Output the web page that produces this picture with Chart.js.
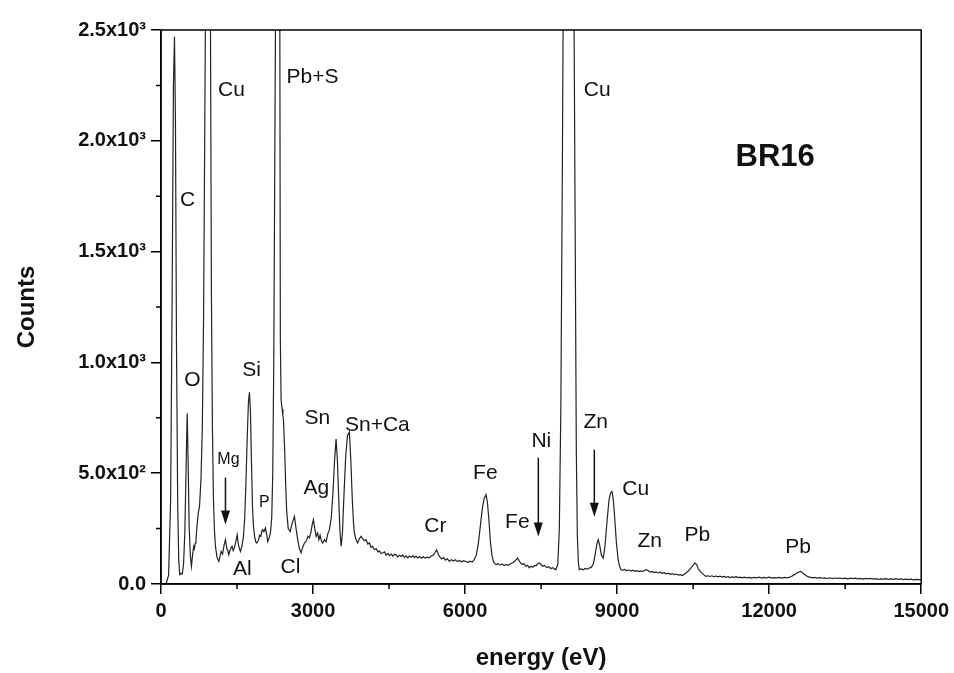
<!DOCTYPE html>
<html>
<head>
<meta charset="utf-8">
<script src="https://cdn.jsdelivr.net/npm/chart.js@4"></script>
<style>
  body { margin: 0; background: #fff; }
</style>
</head>
<body>
<canvas id="spectrum" width="954" height="673"></canvas>
<script>
// EDS spectrum BR16 - energy (eV) vs counts
const energyEv = [
  100, 150, 190, 220, 245, 266, 285, 305, 330, 350, 370, 395, 420, 445, 470, 495, 517, 535, 555, 580,
  600, 625, 645, 660, 675, 690, 710, 735, 760, 790, 815, 840, 865, 885, 905, 930, 955, 975, 995, 1015,
  1035, 1055, 1075, 1105, 1140, 1165, 1187, 1215, 1245, 1272, 1300, 1320, 1337, 1360, 1385, 1404, 1425, 1450, 1475, 1503,
  1525, 1548, 1568, 1595, 1625, 1650, 1675, 1700, 1725, 1745, 1765, 1785, 1805, 1824, 1850, 1870, 1889, 1920, 1945, 1970,
  1990, 2007, 2030, 2061, 2080, 2106, 2130, 2159, 2185, 2205, 2225, 2245, 2265, 2290, 2310, 2330, 2345, 2355, 2370, 2390,
  2405, 2416, 2440, 2460, 2480, 2510, 2548, 2590, 2633, 2665, 2698, 2730, 2765, 2795, 2830, 2870, 2900, 2928, 2960, 2985,
  3007, 3035, 3061, 3090, 3115, 3139, 3165, 3191, 3225, 3258, 3290, 3323, 3360, 3395, 3425, 3455, 3480, 3505, 3530, 3554,
  3580, 3610, 3645, 3680, 3717, 3745, 3775, 3800, 3816, 3850, 3881, 3915, 3948, 3980, 4010, 4047, 4080, 4115, 4145, 4177,
  4210, 4245, 4280, 4310, 4340, 4374, 4410, 4440, 4475, 4510, 4545, 4575, 4610, 4638, 4670, 4705, 4740, 4770, 4800, 4835,
  4870, 4900, 4935, 4970, 5000, 5033, 5070, 5100, 5140, 5175, 5210, 5250, 5295, 5330, 5370, 5400, 5439, 5470, 5500, 5540,
  5575, 5610, 5650, 5689, 5730, 5770, 5810, 5850, 5890, 5930, 5970, 6018, 6060, 6100, 6140, 6180, 6220, 6260, 6300, 6340,
  6375, 6413, 6440, 6470, 6500, 6530, 6560, 6590, 6610, 6650, 6690, 6730, 6770, 6810, 6850, 6890, 6930, 6970, 7000, 7036,
  7070, 7100, 7130, 7160, 7200, 7235, 7267, 7300, 7335, 7370, 7400, 7430, 7464, 7500, 7535, 7570, 7610, 7650, 7690, 7730,
  7760, 7793, 7830, 7860, 7890, 7920, 7950, 7990, 8050, 8100, 8140, 8170, 8195, 8215, 8235, 8253, 8290, 8330, 8370, 8410,
  8450, 8490, 8530, 8565, 8600, 8628, 8655, 8690, 8727, 8760, 8800, 8840, 8870, 8898, 8925, 8955, 8985, 9020, 9050, 9075,
  9110, 9150, 9190, 9230, 9270, 9310, 9350, 9390, 9430, 9470, 9510, 9545, 9580, 9615, 9650, 9690, 9730, 9770, 9810, 9850,
  9890, 9930, 9970, 10010, 10050, 10090, 10130, 10170, 10210, 10250, 10290, 10330, 10370, 10410, 10450, 10490, 10535, 10570, 10600, 10640,
  10680, 10720, 10751, 10790, 10830, 10870, 10910, 10950, 10990, 11030, 11070, 11110, 11150, 11190, 11230, 11270, 11310, 11350, 11390, 11430,
  11470, 11510, 11550, 11605, 11650, 11700, 11750, 11800, 11850, 11900, 11950, 12000, 12050, 12100, 12150, 12200, 12250, 12300, 12350, 12394,
  12440, 12480, 12520, 12560, 12600, 12625, 12660, 12700, 12740, 12780, 12820, 12854, 12900, 12950, 13000, 13050, 13100, 13150, 13200, 13250,
  13300, 13350, 13400, 13450, 13500, 13550, 13600, 13650, 13700, 13750, 13800, 13850, 13900, 13950, 14000, 14050, 14100, 14150, 14200, 14250,
  14300, 14350, 14400, 14450, 14500, 14550, 14600, 14650, 14700, 14750, 14800, 14850, 14900, 14964, 15000
];
const counts = [
  0, 40, 380, 1300, 2250, 2470, 2100, 1100, 350, 110, 42, 48, 45, 90, 230, 520, 771, 560, 260, 125,
  80, 135, 170, 160, 185, 200, 260, 320, 350, 480, 700, 1200, 2100, 2900, 3400, 3500, 3300, 2600, 1300, 700,
  380, 240, 170, 120, 102, 125, 147, 135, 175, 200, 160, 150, 132, 150, 165, 170, 150, 165, 190, 222,
  180, 160, 147, 170, 210, 290, 450, 650, 820, 865, 780, 550, 350, 260, 210, 190, 185, 195, 220, 215,
  240, 245, 235, 253, 230, 192, 205, 230, 300, 500, 1000, 1900, 2800, 3500, 3700, 3400, 2500, 1100, 830, 790,
  760, 741, 606, 450, 330, 250, 237, 275, 305, 250, 200, 160, 140, 165, 185, 195, 215, 208, 235, 270,
  290, 250, 215, 230, 200, 220, 195, 185, 200, 190, 225, 245, 300, 420, 560, 654, 560, 400, 240, 170,
  230, 400, 580, 670, 685, 560, 380, 270, 230, 200, 185, 205, 215, 205, 195, 200, 180, 185, 165, 170,
  155, 160, 145, 150, 138, 140, 145, 130, 138, 128, 135, 126, 134, 132, 122, 130, 124, 131, 120, 127,
  118, 126, 121, 128, 119, 125, 118, 124, 116, 123, 117, 121, 118, 126, 130, 140, 154, 135, 122, 113,
  119, 108, 114, 102, 110, 104, 109, 101, 106, 100, 105, 101, 98, 103, 99, 110, 130, 180, 260, 340,
  385, 403, 370, 290, 190, 130, 100, 92, 88, 92, 86, 90, 83, 88, 84, 90, 95, 100, 108, 117,
  104, 93, 88, 92, 80, 84, 73, 80, 76, 84, 82, 90, 95, 88, 80, 84, 74, 78, 70, 74,
  68, 65, 90, 250, 800, 1900, 3200, 4300, 4600, 4100, 3000, 1700, 600, 220, 100, 65, 68, 64, 70, 67,
  72, 75, 90, 130, 180, 200, 175, 130, 117, 170, 280, 380, 410, 418, 380, 290, 190, 110, 80, 65,
  62, 66, 60, 64, 58, 62, 57, 60, 56, 59, 57, 62, 65, 60, 54, 57, 52, 55, 50, 53,
  48, 51, 46, 49, 44, 47, 42, 45, 40, 42, 38, 45, 52, 60, 70, 82, 95, 88, 70, 57,
  48, 40, 35, 37, 34, 37, 33, 36, 32, 35, 31, 34, 30, 33, 29, 32, 30, 33, 29, 31,
  28, 31, 28, 30, 27, 30, 28, 31, 27, 30, 28, 31, 27, 29, 28, 30, 27, 30, 28, 30,
  34, 40, 45, 52, 55, 57, 50, 43, 36, 32, 30, 28, 30, 27, 29, 26, 28, 25, 28, 24,
  27, 25, 27, 24, 26, 23, 26, 24, 26, 23, 25, 22, 25, 23, 25, 22, 24, 21, 23, 22,
  24, 21, 23, 21, 24, 21, 23, 20, 22, 20, 22, 19, 21, 20, 19
];

// x axis / y axis ticks
const xTicks = [0, 3000, 6000, 9000, 12000, 15000];
const yTicks = [0, 500, 1000, 1500, 2000, 2500];

// peak labels (text, anchor energy, anchor counts)
const peakText = ['C', 'Cu', 'Pb+S', 'Cu', 'O', 'Si', 'Mg', 'P', 'Al', 'Cl', 'Ag', 'Sn', 'Sn+Ca',
  'Cr', 'Fe', 'Fe', 'Ni', 'Zn', 'Cu', 'Zn', 'Pb', 'Pb'];
const peakEv = [523, 1390, 2988, 8608, 621, 1785, 1331, 2041, 1607, 2554, 3067, 3087, 4270,
  5413, 6400, 7031, 7504, 8578, 9367, 9643, 10583, 12570];
const peakCounts = [1732, 2228, 2286, 2228, 921, 966, 560, 367, 65, 78, 434, 750, 718,
  259, 498, 281, 646, 732, 430, 191, 218, 164];
const smallLabels = ['Mg', 'P'];

// arrows: energy, from counts, to counts
const arrowEv = [1272, 7445, 8550];
const arrowFrom = [480, 570, 606];
const arrowTo = [268, 214, 304];

const sampleName = 'BR16';

function yLabel(v) {
  if (v === 0) return '0.0';
  const exp = Math.floor(Math.log10(v));
  const sup = exp === 2 ? '\u00B2' : '\u00B3';
  return (v / Math.pow(10, exp)).toFixed(1) + 'x10' + sup;
}

const decorations = {
  id: 'decorations',
  afterDatasetsDraw(chart) {
    const { ctx, chartArea: a, scales: { x, y } } = chart;
    ctx.save();
    // frame
    ctx.strokeStyle = '#000';
    ctx.lineWidth = 1.5;
    ctx.strokeRect(a.left, a.top, a.right - a.left, a.bottom - a.top);

    // minor ticks
    ctx.beginPath();
    for (let v = 1500; v < 15000; v += 3000) {
      const px = x.getPixelForValue(v);
      ctx.moveTo(px, a.bottom);
      ctx.lineTo(px, a.bottom + 5);
    }
    for (let v = 250; v < 2500; v += 500) {
      const py = y.getPixelForValue(v);
      ctx.moveTo(a.left - 5, py);
      ctx.lineTo(a.left, py);
    }
    ctx.stroke();

    // peak labels
    ctx.fillStyle = '#111';
    ctx.textAlign = 'center';
    ctx.textBaseline = 'middle';
    peakText.forEach((t, i) => {
      const size = smallLabels.includes(t) ? 16 : 21;
      ctx.font = size + 'px "Liberation Sans", Arial, sans-serif';
      ctx.fillText(t, x.getPixelForValue(peakEv[i]), y.getPixelForValue(peakCounts[i]));
    });

    ctx.font = 'bold 31px "Liberation Sans", Arial, sans-serif';
    ctx.fillText(sampleName, x.getPixelForValue(12118), y.getPixelForValue(1926));

    // arrows
    ctx.strokeStyle = '#111';
    ctx.lineWidth = 1.5;
    arrowEv.forEach((e, i) => {
      const px = x.getPixelForValue(e);
      const y0 = y.getPixelForValue(arrowFrom[i]);
      const y1 = y.getPixelForValue(arrowTo[i]);
      ctx.beginPath();
      ctx.moveTo(px, y0);
      ctx.lineTo(px, y1 - 10);
      ctx.stroke();
      ctx.beginPath();
      ctx.moveTo(px - 4.5, y1 - 14);
      ctx.lineTo(px + 4.5, y1 - 14);
      ctx.lineTo(px, y1);
      ctx.closePath();
      ctx.fill();
    });
    ctx.restore();
  }
};

new Chart(document.getElementById('spectrum'), {
  type: 'line',
  data: {
    datasets: [{
      label: 'BR16',
      data: energyEv.map((e, i) => ({ x: e, y: counts[i] })),
      borderColor: '#222',
      borderWidth: 1.2,
      pointRadius: 0,
      tension: 0,
      fill: false
    }]
  },
  options: {
    responsive: false,
    animation: false,
    devicePixelRatio: 1,
    layout: { padding: { left: 0, right: 32, top: 30, bottom: 0 } },
    plugins: { legend: { display: false }, tooltip: { enabled: false } },
    scales: {
      x: {
        type: 'linear',
        min: 0,
        max: 15000,
        afterBuildTicks: s => { s.ticks = xTicks.map(v => ({ value: v })); },
        afterFit: s => { s.height = 89; },
        grid: { drawOnChartArea: false, drawTicks: true, tickLength: 10, color: '#000', lineWidth: 1.5 },
        border: { display: true, color: '#000', width: 1.5 },
        ticks: {
          color: '#111',
          padding: 5,
          maxRotation: 0,
          callback: v => String(v),
          font: { family: '"Liberation Sans Narrow", "Liberation Sans", Arial, sans-serif', size: 20, weight: 'bold' }
        },
        title: {
          display: true,
          text: 'energy (eV)',
          color: '#111',
          padding: { top: 0, bottom: 0 },
          font: { family: '"Liberation Sans", Arial, sans-serif', size: 24, weight: 'bold' }
        }
      },
      y: {
        min: 0,
        max: 2500,
        afterBuildTicks: s => { s.ticks = yTicks.map(v => ({ value: v })); },
        afterFit: s => { s.width = 161; },
        grid: { drawOnChartArea: false, drawTicks: true, tickLength: 10, color: '#000', lineWidth: 1.5 },
        border: { display: true, color: '#000', width: 1.5 },
        ticks: {
          color: '#111',
          padding: 5,
          callback: v => yLabel(v),
          font: { family: '"Liberation Sans", Arial, sans-serif', size: 20, weight: 'bold' }
        },
        title: {
          display: true,
          text: 'Counts',
          color: '#111',
          padding: { top: 13, bottom: 0 },
          font: { family: '"Liberation Sans", Arial, sans-serif', size: 24, weight: 'bold' }
        }
      }
    }
  },
  plugins: [decorations]
});
</script>
</body>
</html>
